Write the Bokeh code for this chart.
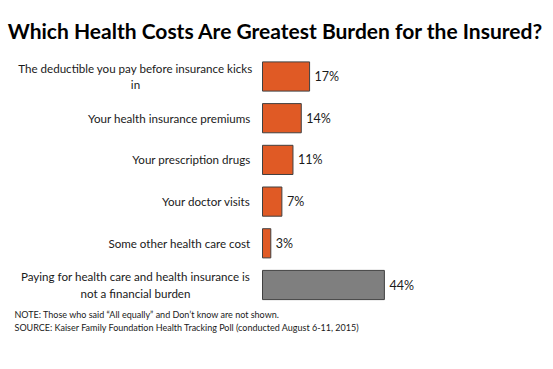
from bokeh.plotting import figure
from bokeh.models import ColumnDataSource, Range1d, Label
from bokeh.core.properties import value
from bokeh.embed import file_html
from bokeh.resources import INLINE

# ---- data ----
categories = [
    "The deductible you pay before insurance kicks\nin",
    "Your health insurance premiums",
    "Your prescription drugs",
    "Your doctor visits",
    "Some other health care cost",
    "Paying for health care and health insurance is\nnot a financial burden",
]
values = [17, 14, 11, 7, 3, 44]
value_labels = ["17%", "14%", "11%", "7%", "3%", "44%"]
title_text = "Which Health Costs Are Greatest Burden for the Insured?"
note_text = ("NOTE: Those who said \u201cAll equally\u201d and Don\u2019t know are not shown.\n"
             "SOURCE: Kaiser Family Foundation Health Tracking Poll (conducted August 6-11, 2015)")

ORANGE = "#E05A25"
GRAY = "#7F7F7F"
colors = [GRAY if c.startswith("Paying") else ORANGE for c in categories]

W, H = 553, 369
X0 = 262          # pixel of value 0
SCALE = 2.77      # px per percent
ROW = 41.7        # px per row
TOP = 76          # px of first row centre

idx = list(range(len(categories)))
single = [i for i in idx if "\n" not in categories[i]]
multi = [i for i in idx if "\n" in categories[i]]

src = ColumnDataSource(dict(y=idx, v=values, c=colors, lab=value_labels, cat=categories,
                            zero=[0] * len(idx)))
src_single = ColumnDataSource(dict(y=[idx[i] for i in single], cat=[categories[i] for i in single],
                                   zero=[0] * len(single)))
src_multi = ColumnDataSource(dict(y=[idx[i] for i in multi], cat=[categories[i] for i in multi],
                                  zero=[0] * len(multi)))

p = figure(width=W, height=H, output_backend="svg", toolbar_location=None,
           x_range=Range1d(-X0 / SCALE, (W - X0) / SCALE),
           y_range=Range1d((H - TOP) / ROW, -TOP / ROW),
           min_border=0, min_border_left=0, min_border_right=0,
           min_border_top=0, min_border_bottom=0)
p.axis.visible = False
p.grid.visible = False
p.outline_line_color = None
p.background_fill_color = "white"
p.border_fill_color = "white"

p.hbar(y="y", left="zero", right="v", height=0.7, source=src,
       fill_color="c", line_color="#404040", line_width=1)

p.text(x="v", y="y", text="lab", source=src, x_offset=5,
       text_align="left", text_baseline="middle",
       text_font=value("Lato"), text_font_size="12.5px", text_color="#1a1a1a")

p.text(x="zero", y="y", text="cat", source=src_single, x_offset=-12,
       text_align="right", text_baseline="middle",
       text_font=value("Lato"), text_font_size="11.6px", text_color="#1a1a1a")

p.text(x="zero", y="y", text="cat", source=src_multi, x_offset=-127,
       text_align="center", text_baseline="middle", text_line_height=1.3,
       text_font=value("Lato"), text_font_size="11.6px", text_color="#1a1a1a")

p.add_layout(Label(x=275, y=H - 30, x_units="screen", y_units="screen",
                   text=title_text, text_align="center", text_baseline="middle",
                   text_font="Lato", text_font_style="bold", text_font_size="21px",
                   text_color="black"))

p.add_layout(Label(x=14, y=H - 308, x_units="screen", y_units="screen",
                   text=note_text, text_align="left", text_baseline="top",
                   text_font="Lato", text_font_size="9px", text_line_height=1.2,
                   text_color="#1a1a1a"))

open("out.html", "w").write(file_html(p, INLINE))
